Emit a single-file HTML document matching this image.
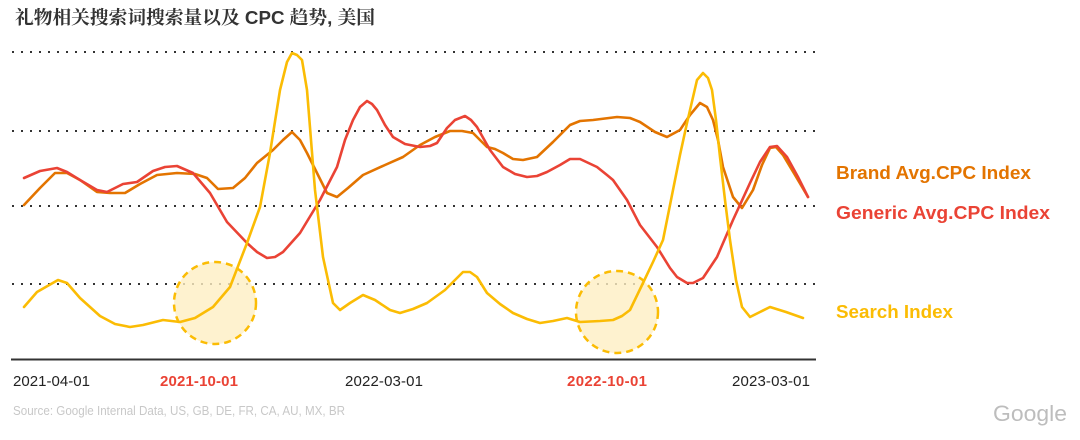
<!DOCTYPE html>
<html><head><meta charset="utf-8"><style>
html,body{margin:0;padding:0;background:#fff;}
body{width:1080px;height:440px;overflow:hidden;}
svg{display:block;}
</style></head><body>
<svg width="1080" height="440" viewBox="0 0 1080 440" xmlns="http://www.w3.org/2000/svg">
<rect width="1080" height="440" fill="#fff"/>
<text x="15" y="24" font-family="'Liberation Sans','Noto Serif CJK SC',serif" font-weight="bold" font-size="18.5" fill="#333" textLength="360" lengthAdjust="spacingAndGlyphs">礼物相关搜索词搜索量以及 CPC 趋势, 美国</text>
<g stroke="#333" stroke-width="2" stroke-dasharray="2 7" fill="none">
<line x1="12" y1="52" x2="822" y2="52"/>
<line x1="12" y1="131" x2="822" y2="131"/>
<line x1="12" y1="206" x2="822" y2="206"/>
<line x1="12" y1="284" x2="822" y2="284"/>
</g>
<line x1="11" y1="359.5" x2="816" y2="359.5" stroke="#333" stroke-width="2"/>
<g fill="#FEEFC3" fill-opacity="0.8" stroke="#FBBC04" stroke-width="2.5" stroke-dasharray="7 5">
<circle cx="215" cy="303" r="41"/>
<circle cx="617" cy="312" r="41"/>
</g>
<g fill="none" stroke-width="2.6" stroke-linejoin="round" stroke-linecap="round">
<polyline stroke="#E37400" points="24,205 40,188 55,173 67,173 80,180 97,192 110,193 125,193 140,184 157,175 177,173 195,174 207,178 218,189 233,188 245,178 257,163 273,150 283,140 292,132 300,140 307,153 318,175 327,193 337,197 348,188 363,175 385,165 403,157 420,145 435,137 450,131 462,131 473,133 487,147 495,149 503,153 513,159 523,160 537,157 553,142 570,125 580,121 593,120 617,117 630,118 640,122 655,132 667,137 680,130 690,115 700,103 707,107 713,120 718,140 723,167 733,197 742,208 753,190 762,165 770,148 776,147 783,155 795,175 808,197"/>
<polyline stroke="#EA4335" points="24,178 40,171 57,168 67,172 80,180 97,190 107,192 123,184 137,182 153,171 165,167 177,166 193,173 210,193 227,222 247,243 257,252 267,258 275,257 283,252 300,233 320,200 337,167 345,140 353,120 360,107 367,101 372,104 377,110 385,125 393,137 405,144 420,147 430,146 437,143 447,128 455,120 465,116 471,120 477,127 490,150 503,167 515,174 527,177 537,176 547,172 560,165 570,159 580,159 597,167 607,175 613,180 627,200 640,225 657,247 670,268 677,277 687,283 693,283 703,278 717,257 733,220 750,183 760,162 770,147 777,146 787,157 798,177 808,197"/>
<polyline stroke="#FBBC04" points="24,307 37,292 58,280 67,283 80,298 100,316 115,324 130,327 143,325 163,320 180,322 195,318 213,307 230,287 247,243 260,207 270,153 280,90 287,62 292,53 297,55 302,60 307,90 311,140 315,190 323,257 333,303 340,310 350,303 363,295 375,300 390,310 400,313 413,309 427,303 445,290 463,272 470,272 477,277 487,293 500,304 513,313 527,319 540,323 553,321 567,318 580,322 600,321 613,320 622,316 630,310 643,283 653,262 663,240 673,190 680,155 687,123 697,80 703,73 708,78 712,90 716,120 720,157 725,200 730,240 736,280 742,307 750,317 760,312 770,307 786,312 803,318"/>
</g>
<g font-family="'Liberation Sans',sans-serif" font-size="15">
<text x="13" y="386" fill="#222" textLength="77">2021-04-01</text>
<text x="160" y="386" fill="#EA4335" font-weight="bold" textLength="78">2021-10-01</text>
<text x="345" y="386" fill="#222" textLength="78">2022-03-01</text>
<text x="567" y="386" fill="#EA4335" font-weight="bold" textLength="80">2022-10-01</text>
<text x="732" y="386" fill="#222" textLength="78">2023-03-01</text>
</g>
<g font-family="'Liberation Sans',sans-serif" font-size="18" font-weight="bold" lengthAdjust="spacingAndGlyphs">
<text x="836" y="179" fill="#E37400" textLength="195" lengthAdjust="spacingAndGlyphs">Brand Avg.CPC Index</text>
<text x="836" y="219" fill="#EA4335" textLength="214" lengthAdjust="spacingAndGlyphs">Generic Avg.CPC Index</text>
<text x="836" y="318" fill="#FBBC04" textLength="117" lengthAdjust="spacingAndGlyphs">Search Index</text>
</g>
<text x="13" y="415" font-family="'Liberation Sans',sans-serif" font-size="12.5" fill="#c8c8c8" textLength="332" lengthAdjust="spacingAndGlyphs">Source: Google Internal Data, US, GB, DE, FR, CA, AU, MX, BR</text>
<text x="993" y="421" font-family="'Liberation Sans',sans-serif" font-size="22" fill="#bdbdbd" textLength="74" lengthAdjust="spacingAndGlyphs">Google</text>
</svg>
</body></html>
